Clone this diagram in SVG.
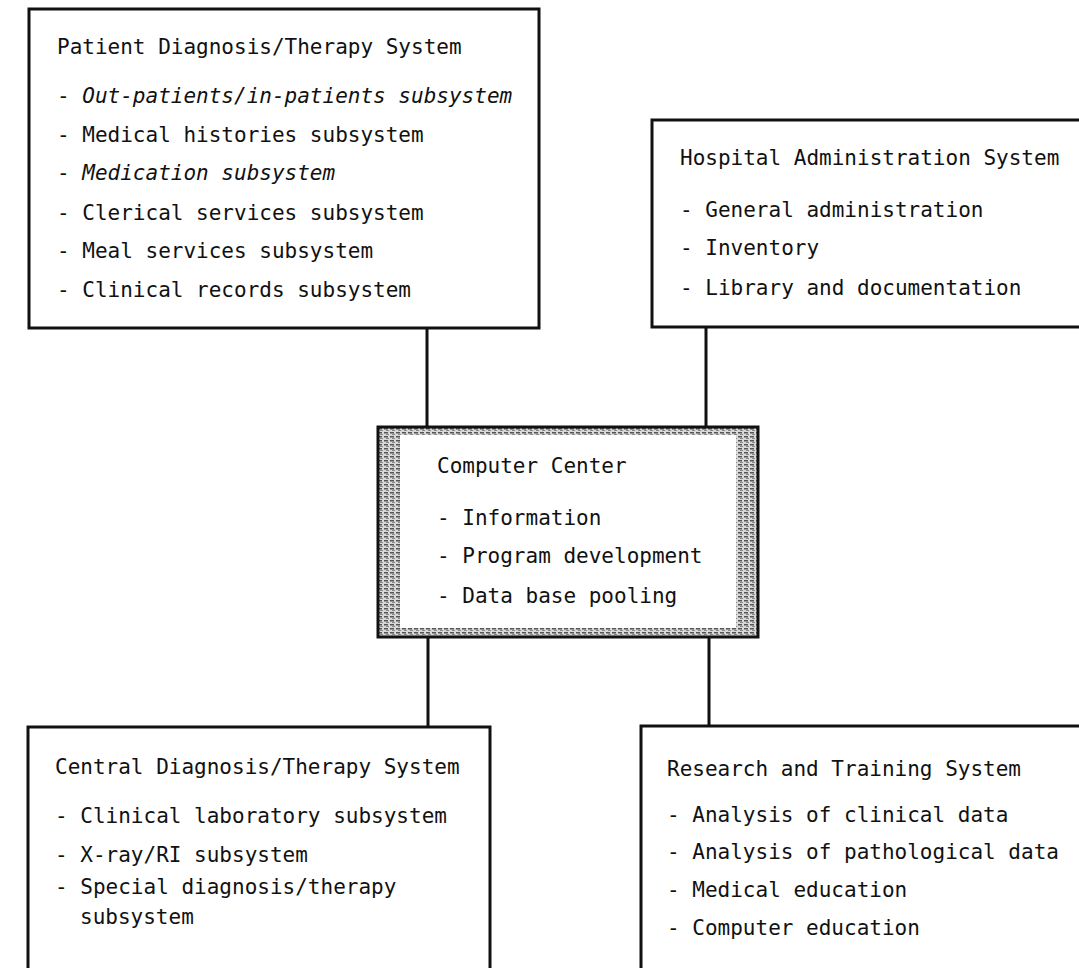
<svg xmlns="http://www.w3.org/2000/svg" width="1079" height="968" viewBox="0 0 1079 968">
  <style>
    text { font-family: "DejaVu Sans Mono", "Liberation Mono", monospace; font-size: 21px; fill: #111; }
    .it { font-style: italic; }
    .box { fill: #fff; stroke: #111; stroke-width: 3; }
    .conn { stroke: #111; stroke-width: 3; fill: none; }
  </style>
  <defs>
    <pattern id="hatch" width="6" height="4" patternUnits="userSpaceOnUse">
      <rect width="6" height="4" fill="#d8d8d8"/>
      <rect width="4" height="1.5" fill="#555"/>
      <rect x="2" y="2" width="3" height="1" fill="#888"/>
    </pattern>
  </defs>
  <rect width="1079" height="968" fill="#fff"/>

  <g id="connectors">
    <line class="conn" x1="427" y1="328" x2="427" y2="428"/>
    <line class="conn" x1="706" y1="327" x2="706" y2="428"/>
    <line class="conn" x1="428" y1="637" x2="428" y2="727"/>
    <line class="conn" x1="709" y1="637" x2="709" y2="726"/>
  </g>

  <g id="patient-system">
    <rect class="box" x="29" y="9" width="510" height="319"/>
    <text x="57" y="54">Patient Diagnosis/Therapy System</text>
    <text x="57" y="103">- <tspan class="it">Out-patients/in-patients subsystem</tspan></text>
    <text x="57" y="142">- Medical histories subsystem</text>
    <text x="57" y="180">- <tspan class="it">Medication subsystem</tspan></text>
    <text x="57" y="220">- Clerical services subsystem</text>
    <text x="57" y="258">- Meal services subsystem</text>
    <text x="57" y="297">- Clinical records subsystem</text>
  </g>

  <g id="hospital-admin">
    <rect class="box" x="652" y="120" width="440" height="207"/>
    <text x="680" y="165">Hospital Administration System</text>
    <text x="680" y="217">- General administration</text>
    <text x="680" y="255">- Inventory</text>
    <text x="680" y="295">- Library and documentation</text>
  </g>

  <g id="computer-center">
    <rect x="378" y="427" width="380" height="210" fill="url(#hatch)" stroke="#111" stroke-width="3"/>
    <rect x="400" y="435" width="336" height="193" fill="#fff"/>
    <text x="437" y="473">Computer Center</text>
    <text x="437" y="525">- Information</text>
    <text x="437" y="563">- Program development</text>
    <text x="437" y="603">- Data base pooling</text>
  </g>

  <g id="central-system">
    <rect class="box" x="28" y="727" width="462" height="260"/>
    <text x="55" y="774">Central Diagnosis/Therapy System</text>
    <text x="55" y="823">- Clinical laboratory subsystem</text>
    <text x="55" y="862">- X-ray/RI subsystem</text>
    <text x="55" y="894">- Special diagnosis/therapy</text>
    <text x="80" y="924">subsystem</text>
  </g>

  <g id="research-training">
    <rect class="box" x="641" y="726" width="450" height="260"/>
    <text x="667" y="776">Research and Training System</text>
    <text x="667" y="822">- Analysis of clinical data</text>
    <text x="667" y="859">- Analysis of pathological data</text>
    <text x="667" y="897">- Medical education</text>
    <text x="667" y="935">- Computer education</text>
  </g>
</svg>
